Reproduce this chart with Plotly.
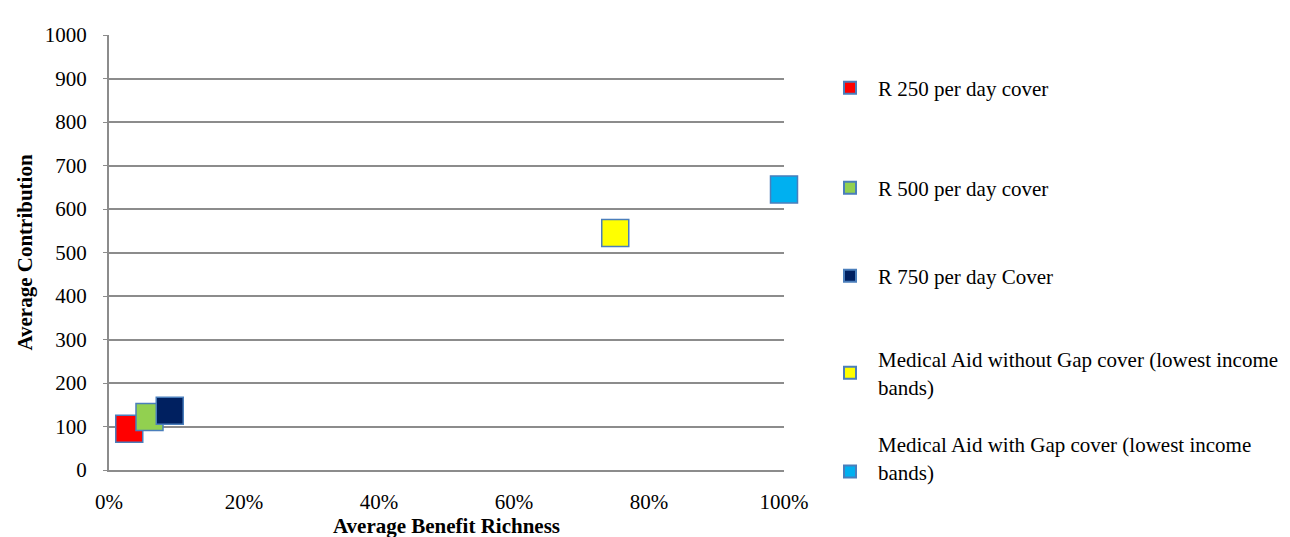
import plotly.graph_objects as go

# cover options: benefit richness (share) vs. average monthly contribution
names = [
    "R 250 per day cover",
    "R 500 per day cover",
    "R 750 per day Cover",
    "Medical Aid without Gap cover (lowest income<br>bands)",
    "Medical Aid with Gap cover (lowest income<br>bands)",
]
richness = [0.03, 0.06, 0.09, 0.75, 1.00]
contribution = [95, 122, 136, 545, 645]
colors = ["#ff0000", "#92d050", "#002060", "#ffff00", "#00b0f0"]

x_ticks = [0, 0.2, 0.4, 0.6, 0.8, 1.0]
x_tick_text = ["0%", "20%", "40%", "60%", "80%", "100%"]

font_family = "Liberation Serif"
grid_color = "#8c8c8c"

fig = go.Figure()
legend_ids = ["legend", "legend2", "legend3", "legend4", "legend5"]
for i in range(len(names)):
    fig.add_trace(go.Scatter(
        x=[richness[i]], y=[contribution[i]], mode="markers", name=names[i],
        marker=dict(symbol="square", size=27, color=colors[i],
                    line=dict(color="#4a7ebb", width=1.5)),
        cliponaxis=False, legend=legend_ids[i],
    ))

# one legend box per entry so the entries can be spaced like the original
legend_px = [80, 180, 268, 365, 450]
legend_valign = ["middle", "middle", "middle", "middle", "bottom"]
legends = {}
for lid, py, va in zip(legend_ids, legend_px, legend_valign):
    legends[lid] = dict(
        xref="container", yref="container", x=814 / 1290, y=1 - py / 537,
        xanchor="left", yanchor="middle", itemsizing="constant", valign=va,
        itemwidth=46, bgcolor="rgba(0,0,0,0)",
        font=dict(family=font_family, size=21, color="black"),
    )

fig.update_layout(
    width=1290, height=537,
    margin=dict(l=101, r=514, t=27, b=66),
    plot_bgcolor="white", paper_bgcolor="white",
    font=dict(family=font_family, size=21, color="black"),
    showlegend=True,
    **legends,
)

fig.update_xaxes(
    range=[0, 1], tickvals=x_ticks, ticktext=x_tick_text,
    showgrid=False, zeroline=False, showline=True, linecolor=grid_color, linewidth=2,
    ticks="", ticklabelstandoff=12,
    title=dict(text="<b>Average Benefit Richness</b>", font=dict(size=21), standoff=4),
)
fig.update_yaxes(
    range=[0, 1000], dtick=100,
    showgrid=True, gridcolor=grid_color, gridwidth=1.5,
    zeroline=False, showline=True, linecolor=grid_color, linewidth=2,
    ticks="outside", ticklen=4, tickcolor=grid_color, ticklabelstandoff=12,
    title=dict(text="<b>Average Contribution</b>", font=dict(size=21), standoff=6),
)

fig.write_html("out.html")
